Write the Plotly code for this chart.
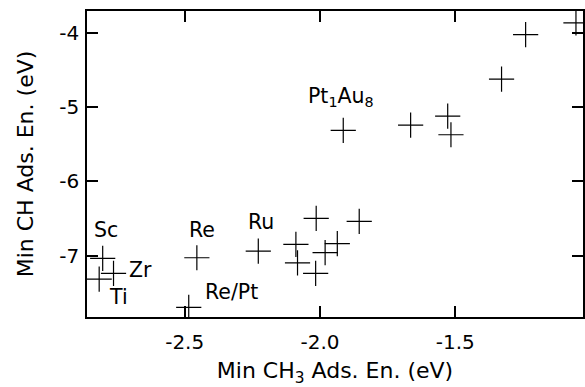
import plotly.graph_objects as go

# Data: min CH3 adsorption energy (x) vs min CH adsorption energy (y), eV
ch3_energy = [-2.803, -2.816, -2.763, -2.455, -2.485, -2.228, -2.089, -2.083,
              -2.014, -2.016, -1.981, -1.936, -1.855, -1.914, -1.665, -1.528,
              -1.516, -1.329, -1.240, -1.054]
ch_energy = [-7.04, -7.32, -7.24, -7.03, -7.70, -6.94, -6.85, -7.10,
             -6.50, -7.24, -6.96, -6.84, -6.54, -5.31, -5.24, -5.12,
             -5.37, -4.62, -4.02, -3.86]

label_text = ["Sc", "Zr", "Ti", "Re", "Re/Pt", "Ru", "Pt<sub>1</sub>Au<sub>8</sub>"]
label_x = [-2.843, -2.714, -2.787, -2.493, -2.434, -2.272, -2.051]
label_y = [-6.653, -7.193, -7.557, -6.653, -7.489, -6.545, -4.86]

x_ticks = [-2.5, -2.0, -1.5]
x_tick_text = ["-2.5", "-2.0", "-1.5"]
y_ticks = [-7, -6, -5, -4]
y_tick_text = ["-7", "-6", "-5", "-4"]

FONT = "DejaVu Sans"

fig = go.Figure()
fig.add_trace(go.Scatter(
    x=ch3_energy, y=ch_energy, mode="markers",
    marker=dict(symbol="cross-thin", size=18, color="black",
                line=dict(width=1.2, color="black")),
    showlegend=False,
))

for t, lx, ly in zip(label_text, label_x, label_y):
    fig.add_annotation(x=lx, y=ly, text=t, showarrow=False,
                       xanchor="left", yanchor="middle",
                       font=dict(family=FONT, size=20.5, color="black"))

axis_common = dict(
    showline=True, linecolor="black", linewidth=1.5, mirror="ticks",
    ticks="inside", ticklen=11, tickwidth=1.5, tickcolor="black",
    showgrid=False, zeroline=False,
    tickfont=dict(family=FONT, size=20, color="black"),
)

fig.update_xaxes(range=[-2.861, -1.028], tickvals=x_ticks, ticktext=x_tick_text,
                 ticklabelstandoff=6,
                 title=dict(text="Min CH<sub>3</sub> Ads. En. (eV)",
                            font=dict(family=FONT, size=22, color="black"),
                            standoff=11),
                 **axis_common)
fig.update_yaxes(range=[-7.83, -3.70], tickvals=y_ticks, ticktext=y_tick_text,
                 ticklabelstandoff=2,
                 title=dict(text="Min CH Ads. En. (eV)",
                            font=dict(family=FONT, size=22, color="black"),
                            standoff=20),
                 **axis_common)

fig.update_layout(
    width=585, height=387,
    margin=dict(l=87, r=0, t=11, b=70),
    paper_bgcolor="white", plot_bgcolor="white",
)

fig.write_html("out.html")
